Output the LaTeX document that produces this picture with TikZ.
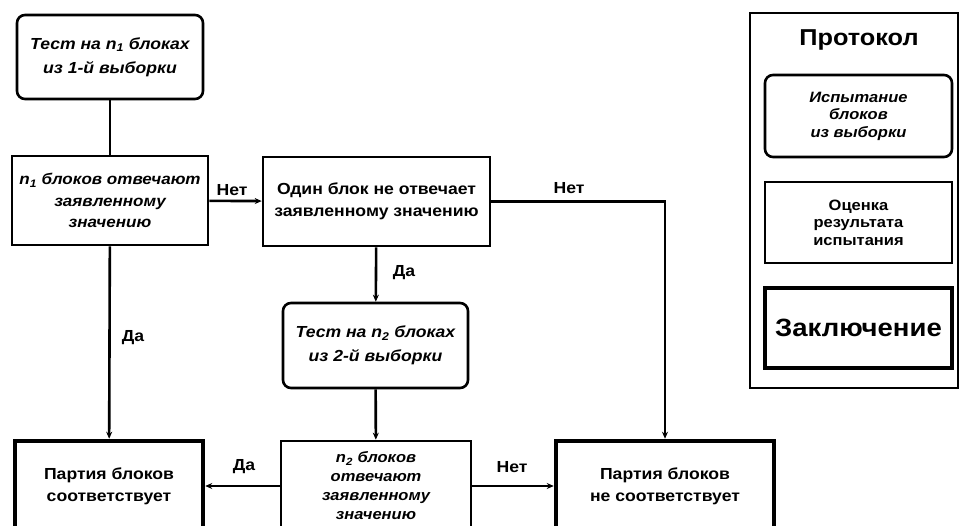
\documentclass[tikz,border=0pt]{standalone}
\usepackage{fontspec}
\setmainfont{Liberation Sans}[FakeStretch=1.1]
\usetikzlibrary{arrows.meta}
\tikzset{
  base/.style={draw=black, line width=2.6pt, align=center, inner sep=1pt, font=\bfseries\fontsize{16}{22}\selectfont},
  testbox/.style={base, rounded corners=8pt, font=\bfseries\itshape\fontsize{16}{24}\selectfont},
  evalbox/.style={base},
  concbox/.style={base, line width=4.5pt},
  conn/.style={line width=2.6pt, -{Stealth[length=7pt,width=6pt]}},
  plainconn/.style={line width=2.6pt},
  lbl/.style={font=\bfseries\fontsize{16}{18}\selectfont, inner sep=0pt}
}
\begin{document}
\begin{tikzpicture}[x=1pt,y=-1pt]
\useasboundingbox (0,0) rectangle (959,526);
\clip (0,0) rectangle (959,526);
% flow nodes
\node[testbox, minimum width=186pt, minimum height=84pt] (t1) at (110,57) {Тест на \textit{n}\textsubscript{1} блоках\\из 1-й выборки};
\node[evalbox, minimum width=196pt, minimum height=89pt, font=\bfseries\itshape\fontsize{15.5}{21.5}\selectfont] (e1) at (110,200.5) {\textit{n}\textsubscript{1} блоков отвечают\\заявленному\\значению};
\node[evalbox, minimum width=227pt, minimum height=89pt] (e2) at (376.5,201.5) {Один блок не отвечает\\заявленному значению};
\node[testbox, minimum width=185pt, minimum height=85pt] (t2) at (375.5,345.5) {Тест на \textit{n}\textsubscript{2} блоках\\из 2-й выборки};
\node[evalbox, minimum width=190pt, minimum height=90pt, font=\bfseries\itshape\fontsize{15}{19}\selectfont] (e3) at (376,486) {\textit{n}\textsubscript{2} блоков\\отвечают\\заявленному\\значению};
\node[concbox, minimum width=188pt, minimum height=90pt] (c1) at (109,486) {Партия блоков\\соответствует};
\node[concbox, minimum width=218pt, minimum height=90pt] (c2) at (665,486) {Партия блоков\\не соответствует};
% connectors
\draw[plainconn] (t1) -- (e1);
\draw[conn] (e1) -- (e2);
\coordinate (corner) at (c2.north |- e2.east);
\draw[conn] (e2.east) -- (corner) -- (c2.north);
\draw[conn] (e2) -- (t2);
\draw[conn] (t2) -- (e3);
\draw[conn] (e1) -- (c1);
\draw[conn] (e3) -- (c1);
\draw[conn] (e3) -- (c2);
% labels
\node[lbl] (l1) at (232,190) {Нет};
\node[lbl] (l2) at (569,188) {Нет};
\node[lbl] (l3) at (404,273) {Да};
\node[lbl] (l4) at (133,338) {Да};
\node[lbl] (l5) at (244,467) {Да};
\node[lbl] (l6) at (512,467) {Нет};
% legend
\node[draw=black, line width=2.4pt, minimum width=208pt, minimum height=375pt] (leg) at (854,200.5) {};
\node[font=\bfseries\fontsize{23}{26}\selectfont, inner sep=0pt] (legt) at (859,40) {Протокол};
\node[testbox, minimum width=187pt, minimum height=82pt, font=\bfseries\itshape\fontsize{15}{17.5}\selectfont] (lg1) at (858.5,116) {Испытание\\блоков\\из выборки};
\node[evalbox, minimum width=187pt, minimum height=81pt, font=\bfseries\fontsize{15}{17.5}\selectfont] (lg2) at (858.5,222.5) {Оценка\\результата\\испытания};
\node[concbox, minimum width=187pt, minimum height=80pt, font=\bfseries\fontsize{25}{28}\selectfont] (lg3) at (858.5,328) {Заключение};
\end{tikzpicture}
\end{document}
